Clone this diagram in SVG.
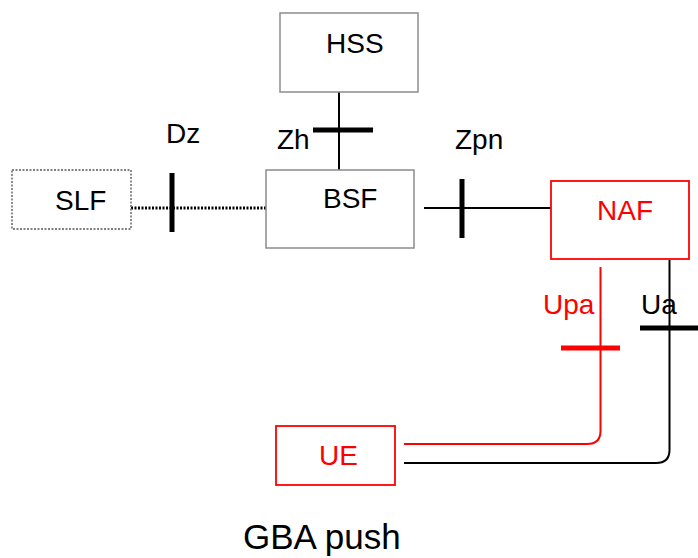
<svg xmlns="http://www.w3.org/2000/svg" width="698" height="558" viewBox="0 0 698 558">
<style>
text{font-family:"Liberation Sans",Arial,sans-serif;font-size:28px;fill:#000}
.red{fill:#ff0000}
.box{fill:#fff;stroke:#8c8c8c;stroke-width:1.5}
.rbox{fill:#fff;stroke:#ff0000;stroke-width:1.8}
.ln{fill:none;stroke:#000;stroke-width:2}
.rln{fill:none;stroke:#ff0000;stroke-width:2}
.bar{stroke:#000;stroke-width:5}
.rbar{stroke:#ff0000;stroke-width:5}
</style>
<rect width="698" height="558" fill="#fff"/>
<g id="connectors">
<line x1="131" y1="208" x2="266" y2="208" stroke="#000" stroke-width="3" stroke-dasharray="2 1.5"/>
<line class="bar" x1="172" y1="173" x2="172" y2="232"/>
<line class="ln" x1="339" y1="92" x2="339" y2="170"/>
<line class="bar" x1="313" y1="130" x2="373" y2="130"/>
<line class="ln" x1="424" y1="208" x2="551" y2="208"/>
<line class="bar" x1="462" y1="179" x2="462" y2="238"/>
<path class="rln" d="M600.5,267 V431 Q600.5,444 587,444 H404"/>
<line class="rbar" x1="561" y1="348" x2="620" y2="348"/>
<path class="ln" d="M669.5,260 V450 Q669.5,463 656,463 H404"/>
<line class="bar" x1="640" y1="328" x2="698" y2="328"/>
</g>
<g id="SLF">
<rect x="12" y="170" width="119" height="59" fill="#fff" stroke="#808080" stroke-width="1.8" stroke-dasharray="2 1.5"/>
<text x="55" y="210">SLF</text>
</g>
<g id="HSS">
<rect class="box" x="280" y="13" width="138" height="79"/>
<text x="326" y="53">HSS</text>
</g>
<g id="BSF">
<rect class="box" x="266" y="170" width="148" height="78"/>
<text x="323" y="208">BSF</text>
</g>
<g id="NAF">
<rect class="rbox" x="551" y="181" width="138" height="78"/>
<text class="red" x="597" y="220">NAF</text>
</g>
<g id="UE">
<rect class="rbox" x="276" y="426" width="119" height="59"/>
<text class="red" x="319" y="465">UE</text>
</g>
<g id="labels">
<text x="166" y="143">Dz</text>
<text x="277" y="149">Zh</text>
<text x="455" y="149">Zpn</text>
<text class="red" x="543" y="314">Upa</text>
<text x="641" y="314">Ua</text>
<text x="243" y="549" style="font-size:35px">GBA push</text>
</g>
</svg>
